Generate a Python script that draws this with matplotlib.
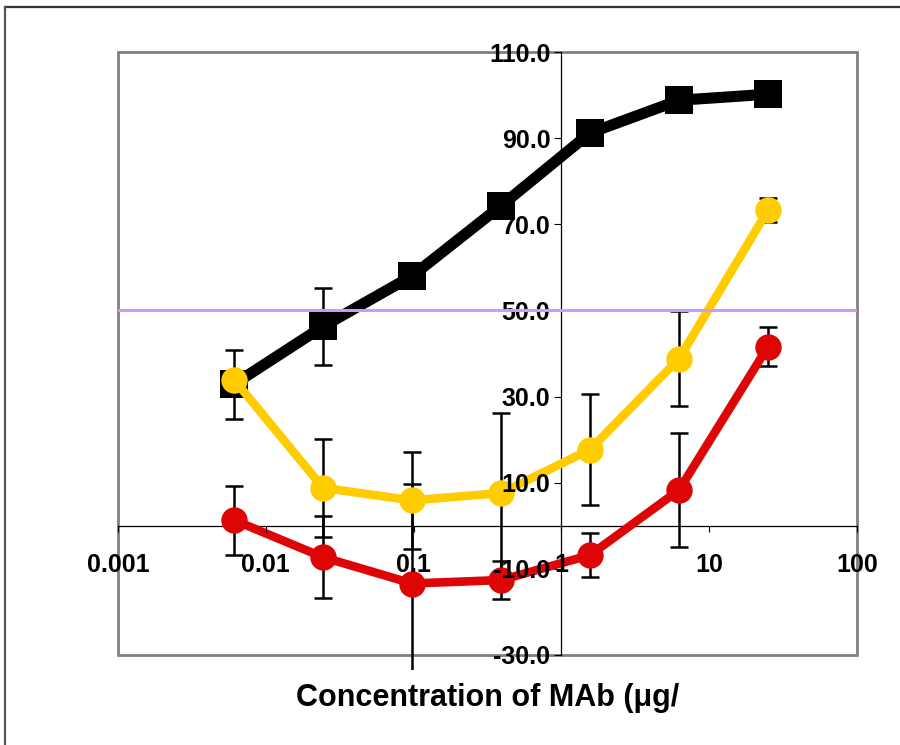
import numpy as np
import matplotlib
matplotlib.use("Agg")
import matplotlib.pyplot as plt
from matplotlib.patches import Rectangle
from matplotlib.lines import Line2D

plt.rcParams['font.family'] = ['Liberation Sans', 'DejaVu Sans']
plt.rcParams['font.weight'] = 'bold'

# ==============================
# Data
# ==============================

conc = [0.006103515625, 0.0244140625, 0.09765625, 0.390625, 1.5625, 6.25, 25]

black_vals = [32.9, 46.3, 58.0, 74.3, 91.2, 98.8, 100.2]
black_err = [8.0, 9.0, 2.0, 2.0, 1.5, 1.0, 0.5]

yellow_vals = [33.9, 8.8, 5.9, 7.6, 17.7, 38.8, 73.3]
yellow_err = [2.0, 11.3, 11.2, 18.5, 12.8, 11.0, 2.8]

red_vals = [1.3, -7.3, -13.4, -12.6, -6.8, 8.3, 41.6]
red_err = [8.0, 9.5, 23.0, 4.5, 5.2, 13.2, 4.5]

ref_level = 50.0

x_ticks = [0.001, 0.01, 0.1, 1, 10, 100]
x_tick_labels = ['0.001', '0.01', '0.1', '1', '10', '100']
y_ticks = [-30, -10, 10, 30, 50, 70, 90, 110]

# ==============================
# Figure
# ==============================

fig = plt.figure(figsize=(9, 7.45), dpi=100)
ax = fig.add_axes([118 / 900, 90 / 745, 739 / 900, 603 / 745])

ax.set_xscale('log')
ax.set_xlim(0.001, 100)
ax.set_ylim(-30, 110)

# clip area for error bars (slightly below plot frame)
clip_rect = Rectangle((0, -0.025), 1, 1.1, transform=ax.transAxes,
                      facecolor='none', edgecolor='none')
ax.add_patch(clip_rect)

series = [
    (black_vals, black_err, 'black', 's', 8, 20, 3),
    (yellow_vals, yellow_err, '#FFCC00', 'o', 6.2, 19, 4),
    (red_vals, red_err, '#DD0505', 'o', 6.2, 19, 5),
]

for vals, err, col, mk, lw, ms, z in series:
    eb = ax.errorbar(conc, vals, yerr=err, fmt='none', ecolor='black',
                     elinewidth=1.8, capsize=6.5, capthick=1.8, zorder=2)
    for art in list(eb[1]) + list(eb[2]):
        art.set_clip_path(clip_rect)
    ax.plot(conc, vals, color=col, linewidth=lw, marker=mk, markersize=ms,
            markeredgewidth=0, zorder=z)

ax.axhline(ref_level, color='#CC99FF', linewidth=2.2, zorder=7)

# axes crossing in the middle
ax.spines['top'].set_visible(False)
ax.spines['right'].set_visible(False)
ax.spines['left'].set_position(('data', 1))
ax.spines['bottom'].set_position(('data', 0))
for s in ['left', 'bottom']:
    ax.spines[s].set_linewidth(0.9)
    ax.spines[s].set_color('black')

# grey plot-area frame
ax.add_patch(Rectangle((0, 0), 1, 1, transform=ax.transAxes, fill=False,
                       edgecolor='#808080', linewidth=2, zorder=1, clip_on=False))

ax.set_xticks(x_ticks)
ax.set_xticklabels(x_tick_labels)
ax.xaxis.set_minor_locator(matplotlib.ticker.NullLocator())
ax.set_yticks(y_ticks)
ax.set_yticklabels(['%.1f' % v for v in y_ticks])

ax.tick_params(axis='x', direction='out', length=4.5, width=0.8, pad=15,
               labelsize=18)
ax.tick_params(axis='y', direction='out', length=5, width=0.8, pad=3,
               labelsize=18)
for lab in ax.get_xticklabels() + ax.get_yticklabels():
    lab.set_fontweight('bold')
ax.xaxis.set_zorder(6)
ax.yaxis.set_zorder(6)

ax.set_xlabel('Concentration of MAb (μg/', fontsize=22, fontweight='bold')
ax.xaxis.set_label_coords(0.5, -0.0713)
ax.xaxis.label.set_verticalalignment('center')

# outer chart border (top and left edges visible)
fig.add_artist(Line2D([5 / 900, 1.0], [1 - 7 / 745, 1 - 7 / 745],
                      transform=fig.transFigure, color='#333333', linewidth=1.6))
fig.add_artist(Line2D([5 / 900, 5 / 900], [1 - 7 / 745, 0.0],
                      transform=fig.transFigure, color='#555555', linewidth=1.6))

fig.savefig('out.png', dpi=100)
